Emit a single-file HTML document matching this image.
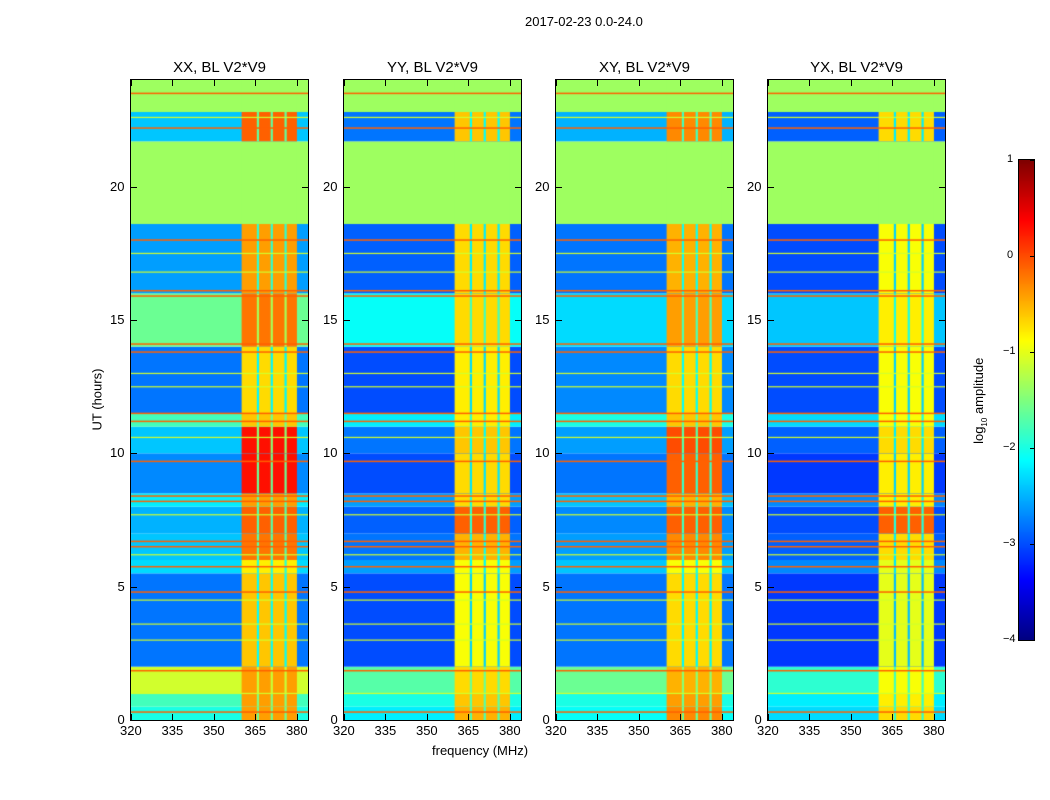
<!DOCTYPE html>
<html><head><meta charset="utf-8">
<style>
body{margin:0;background:#fff;font-family:"Liberation Sans","DejaVu Sans",sans-serif;}
#root{position:relative;width:1050px;height:800px;overflow:hidden;background:#fff;}
.t{position:absolute;font-size:13px;color:#000;white-space:nowrap;}
.ptitle{position:absolute;font-size:15px;text-align:center;width:177px;}
canvas{position:absolute;}
</style></head><body>
<div id="root">
<div class="t" style="left:525px;top:14px;">2017-02-23 0.0-24.0</div>
<div class="t" style="left:432px;top:743px;">frequency (MHz)</div>
<div class="t" style="left:52px;top:392px;transform:rotate(-90deg);transform-origin:center;width:90px;text-align:center;">UT (hours)</div>
<div class="t" style="left:930px;top:392px;transform:rotate(-90deg);width:100px;text-align:center;">log<sub style="font-size:8px">10</sub> amplitude</div>
</div>
<script>
// ---- data ----
const panelNames = ["XX, BL V2*V9","YY, BL V2*V9","XY, BL V2*V9","YX, BL V2*V9"];
const segStarts = [0,0.5,1,2,5.5,6,7,8,8.5,10,11,11.5,14,16,18.6,21.7,22.8];
const bgXX   = [-2.0,-1.8,-1.1,-2.8,-2.3,-2.4,-2.5,-2.2,-2.7,-2.4,-1.8,-2.8,-1.6,-2.6,-1.35,-2.4,-1.35];
const bandXX = [-0.4,-0.4,-0.4,-0.6,-0.8,-0.2,-0.1,-0.4,0.3,0.3,-0.6,-0.7,-0.2,-0.4,-1.35,-0.1,-1.35];
const bgYY   = [-2.2,-2.0,-1.7,-3.0,-2.6,-2.8,-2.9,-2.6,-3.0,-2.8,-2.2,-3.0,-2.1,-2.9,-1.35,-2.8,-1.35];
const bandYY = [-0.5,-0.6,-0.7,-0.9,-0.9,-0.5,-0.1,-0.7,-0.7,-0.6,-0.8,-0.8,-0.7,-0.7,-1.35,-0.6,-1.35];
const bgXY   = [-2.1,-2.0,-1.6,-2.8,-2.4,-2.6,-2.7,-2.4,-2.8,-2.6,-2.0,-2.7,-2.3,-2.8,-1.35,-2.5,-1.35];
const bandXY = [-0.3,-0.4,-0.5,-0.7,-0.9,-0.3,-0.1,-0.5,-0.1,0.0,-0.6,-0.7,-0.4,-0.5,-1.35,-0.3,-1.35];
const bgYX   = [-2.3,-2.2,-1.9,-3.1,-2.7,-2.9,-3.0,-2.7,-3.1,-2.9,-2.3,-3.0,-2.4,-3.0,-1.35,-2.9,-1.35];
const bandYX = [-0.7,-0.8,-0.9,-1.0,-1.0,-0.7,-0.1,-0.8,-0.8,-0.7,-0.9,-0.9,-0.8,-0.9,-1.35,-0.7,-1.35];
const flagHours = [0.3,1.85,4.8,5.75,6.5,6.7,8.2,8.4,9.7,11.2,11.5,13.8,14.1,15.9,16.1,18.0,22.2,23.5];
const yellowHours = [1.0,3.0,3.6,4.5,6.2,7.7,10.6,12.5,13.0,16.8,17.5,22.6];
const gapFreqs = [365.5,370.5,375.5];
const xTicks = [320,335,350,365,380];
const yTicks = [0,5,10,15,20];
const cbTicks = [1,0,-1,-2,-3,-4];
const bgs=[bgXX,bgYY,bgXY,bgYX], bands=[bandXX,bandYY,bandXY,bandYX];
// ---- layout ----
const root=document.getElementById('root');
const lefts=[131,344,556,768], T0=80, W=177, H=640;
const fMin=320,fMax=384,tMin=0,tMax=24,bandLo=360,bandHi=380;
const xs=f=>(f-fMin)/(fMax-fMin)*W, ys=t=>H-(t-tMin)/(tMax-tMin)*H;
function jet(v){let x=(v+4)/5;x=Math.max(0,Math.min(1,x));
 const c=t=>Math.max(0,Math.min(1,t));
 const r=c(1.5-Math.abs(4*x-3)),g=c(1.5-Math.abs(4*x-2)),b=c(1.5-Math.abs(4*x-1));
 return `rgb(${r*255|0},${g*255|0},${b*255|0})`;}
panelNames.forEach((nm,p)=>{
 const cv=document.createElement('canvas');cv.width=W;cv.height=H;
 cv.style.left=lefts[p]+'px';cv.style.top=T0+'px';
 
 
 root.appendChild(cv);const g=cv.getContext('2d');
 segStarts.forEach((s,i)=>{const e=i+1<segStarts.length?segStarts[i+1]:tMax;
  const y0=ys(e),h=ys(s)-ys(e);
  g.fillStyle=jet(bgs[p][i]);g.fillRect(0,y0,W,h);
  g.fillStyle=jet(bands[p][i]);g.fillRect(xs(bandLo),y0,xs(bandHi)-xs(bandLo),h);
  const flagged=bgs[p][i]===bands[p][i];
  if(!flagged){gapFreqs.forEach(f=>{g.fillStyle=jet((bgs[p][i]+bands[p][i])/2-0.4);g.fillRect(xs(f),y0,xs(f+0.8)-xs(f),h);});}
 });
 yellowHours.forEach(hh=>{g.fillStyle=jet(-1.1);g.fillRect(0,ys(hh)-0.5,W,1.2);});
 flagHours.forEach(hh=>{g.fillStyle=jet(-0.1);g.fillRect(0,ys(hh)-0.7,W,1.5);});
 const fr=document.createElement('div');
 
 
 fr.style.cssText=`position:absolute;left:${lefts[p]-1}px;top:${T0-1}px;width:${W}px;height:${H}px;border:1px solid #000;`;
 root.appendChild(fr);
 const tt=document.createElement('div');tt.className='ptitle';tt.textContent=nm;
 
 
 tt.style.left=lefts[p]+'px';tt.style.top='59px';root.appendChild(tt);
 xTicks.forEach(v=>{const x=lefts[p]+xs(v);
  ['t','b'].forEach(k=>{const d=document.createElement('div');
   
   
   d.style.cssText=`position:absolute;left:${x}px;top:${k=='t'?T0:T0+H-6}px;width:1px;height:6px;background:#000;`;root.appendChild(d);});
  const l=document.createElement('div');l.className='t';l.textContent=v;
  
  
  l.style.left=(x-11)+'px';l.style.top=(T0+H+3)+'px';root.appendChild(l);});
 yTicks.forEach(v=>{const y=T0+ys(v);
  ['l','r'].forEach(k=>{const d=document.createElement('div');
   
   
   d.style.cssText=`position:absolute;left:${k=='l'?lefts[p]:lefts[p]+W-6}px;top:${y}px;width:6px;height:1px;background:#000;`;root.appendChild(d);});
  const l=document.createElement('div');l.className='t';l.textContent=v;
  
  
  l.style.left=(lefts[p]-6-String(v).length*7.5)+'px';l.style.top=(y-8)+'px';root.appendChild(l);});
});
const cb=document.createElement('canvas');cb.width=15;cb.height=480;
cb.style.left='1019px';cb.style.top='160px';cb.style.outline='1px solid #000';


root.appendChild(cb);const cg=cb.getContext('2d');
for(let i=0;i<480;i++){cg.fillStyle=jet(1-5*i/480);cg.fillRect(0,i,15,1);}
cbTicks.forEach(v=>{const y=160+(1-v)/5*480;
 const l=document.createElement('div');l.className='t';l.style.fontSize='11px';
 l.textContent=v<0?'\u2212'+(-v):v;
 
 
 l.style.left=(v<0?1003:1007)+'px';l.style.top=(y-7)+'px';root.appendChild(l);
 const d=document.createElement('div');
 
 
 d.style.cssText=`position:absolute;left:1030px;top:${y}px;width:4px;height:1px;background:#000;`;root.appendChild(d);});
</script>
</body></html>
